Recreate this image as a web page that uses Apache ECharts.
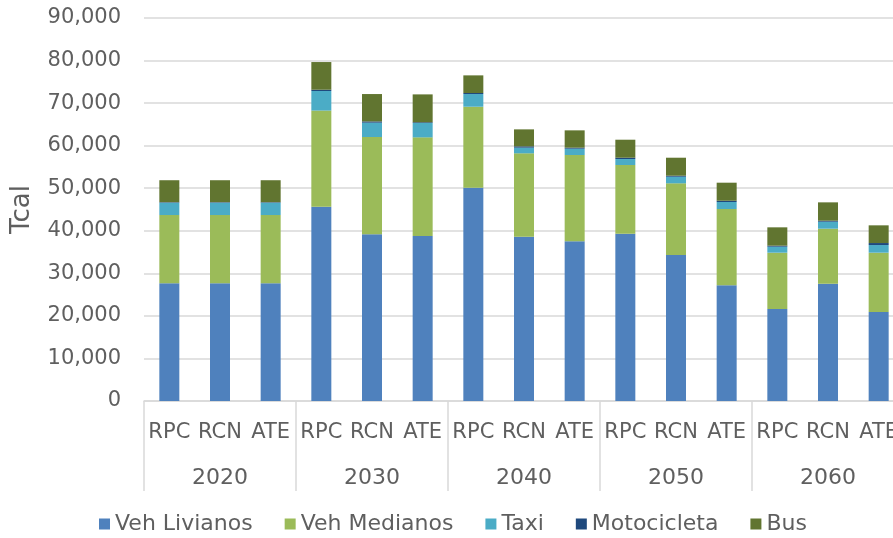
<!DOCTYPE html>
<html><head><meta charset="utf-8">
<script src="https://cdn.jsdelivr.net/npm/echarts@6/dist/echarts.min.js"></script>
<style>html,body{margin:0;padding:0;background:#fff;overflow:hidden;width:893px;height:538px}#c{width:904px;height:538px}</style>
</head><body><div id="c"></div>
<script>
const scenarios = ['RPC','RCN','ATE','RPC','RCN','ATE','RPC','RCN','ATE','RPC','RCN','ATE','RPC','RCN','ATE'];
const years = ['2020','2030','2040','2050','2060'];
const seriesNames = ['Veh Livianos','Veh Medianos','Taxi','Motocicleta','Bus'];
const livianos = [27650,27650,27650,45650,39170,38770,50120,38610,37520,39310,34300,27180,21620,27570,20910];
const medianos = [16050,16050,16050,22600,22860,23180,19030,19590,20280,16140,16850,17930,13230,12920,13940];
const taxi = [2900,2900,2900,4590,3370,3370,2980,1330,1490,1410,1550,1650,1410,1640,1800];
const moto = [120,120,120,310,300,180,240,310,240,310,240,300,240,240,470];
const bus = [5160,5160,5160,6500,6430,6550,4150,3990,4070,4230,4230,4240,4310,4310,4160];
const yTicks = [0,10000,20000,30000,40000,50000,60000,70000,80000,90000];

const colors = ['#4F81BD','#9BBB59','#4BACC6','#1F497D','#617530'];
const dataArr = [livianos, medianos, taxi, moto, bus];
const font = 'DejaVu Sans';
const txt = '#5f5f5f';
const chart = echarts.init(document.getElementById('c'));
chart.setOption({
  animation:false,
  textStyle:{fontFamily:font},
  grid:{left:144, top:18, width:760, height:383},
  legend:{top:513, left:99, itemWidth:11, itemHeight:11, itemGap:32, padding:0,
    textStyle:{fontSize:22, color:txt, fontFamily:font},
    data:seriesNames.map((n,i)=>({name:n, icon:'rect'}))},
  xAxis:[
    {type:'category', data:scenarios, axisLine:{lineStyle:{color:'#d9d9d9', width:1.5}},
     axisTick:{show:false}, axisLabel:{color:txt, fontSize:21, margin:21, interval:0, fontFamily:font}},
    {type:'category', data:years, position:'bottom', axisLine:{show:false},
     axisTick:{show:true, length:90, lineStyle:{color:'#d9d9d9', width:1.5}},
     axisLabel:{color:txt, fontSize:22, margin:66, fontFamily:font}}
  ],
  yAxis:{type:'value', min:yTicks[0], max:yTicks[yTicks.length-1], interval:10000,
    name:'Tcal', nameLocation:'middle', nameGap:109, nameTextStyle:{fontSize:26, color:txt},
    axisLine:{show:false}, axisTick:{show:false},
    splitLine:{lineStyle:{color:'#d9d9d9', width:1.5}},
    axisLabel:{color:txt, fontSize:21, margin:23, formatter:v=>v.toLocaleString('en-US')}},
  series: seriesNames.map((n,i)=>({
    name:n, type:'bar', stack:'t', xAxisIndex:0, barWidth:20,
    itemStyle:{color:colors[i]}, data:dataArr[i]
  }))
});
</script></body></html>
